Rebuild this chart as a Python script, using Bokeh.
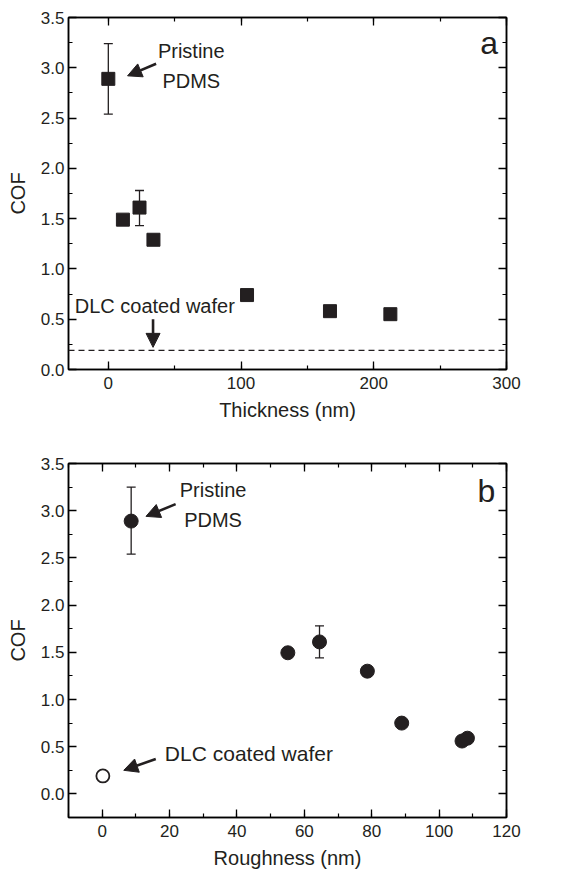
from bokeh.plotting import figure
from bokeh.layouts import column
from bokeh.models import (Range1d, LinearAxis, SingleIntervalTicker, NumeralTickFormatter,
                          CustomJSTickFormatter, Whisker, TeeHead, Span, Arrow, NormalHead,
                          Label, ColumnDataSource)
from bokeh.embed import file_html
from bokeh.resources import INLINE

# ---- data, panel a (COF vs thickness) ----
thick_nm = [0, 11, 23.5, 34, 104.5, 167, 212.5]
cof_a = [2.89, 1.49, 1.61, 1.29, 0.74, 0.58, 0.55]
err_x_a = [0, 23.5, 34]
err_lo_a = [2.54, 1.43, 1.24]
err_hi_a = [3.24, 1.78, 1.34]
dlc_cof = 0.19

# ---- data, panel b (COF vs roughness) ----
rough_nm = [8.6, 55.1, 64.5, 78.7, 88.9, 106.8, 108.4]
cof_b = [2.89, 1.495, 1.61, 1.30, 0.75, 0.56, 0.59]
err_x_b = [8.6, 64.5, 78.7]
err_lo_b = [2.54, 1.44, 1.25]
err_hi_b = [3.25, 1.78, 1.35]
dlc_rough = [0.2]
dlc_cof_b = [0.19]

# ---- annotation positions (data units) ----
ann_a = dict(pristine=(62.5, 3.17), pdms=(62.5, 2.87), arrow=(36, 3.04, 14.5, 2.92),
             dlc=(35, 0.63), dlc_arrow=(33.7, 0.50, 33.7, 0.22), letter=(287, 3.25))
ann_b = dict(pristine=(32.9, 3.22), pdms=(32.9, 2.90), arrow=(21.8, 3.07, 13.0, 2.94),
             dlc=(18.6, 0.43), dlc_arrow=(15.9, 0.37, 6.4, 0.25), letter=(114, 3.21))

FONT = "Liberation Sans"
TXT = "#231f20"


def style_axis(ax, ticker, fmt=None, labels=True):
    ax.ticker = ticker
    if fmt is not None:
        ax.formatter = fmt
    ax.axis_line_color = "black"
    ax.axis_line_width = 1.5
    ax.major_tick_in = 8
    ax.major_tick_out = 0
    ax.minor_tick_in = 4
    ax.minor_tick_out = 0
    ax.major_tick_line_width = 1.3
    ax.minor_tick_line_width = 1.2
    ax.major_tick_line_color = "black"
    ax.minor_tick_line_color = "black"
    ax.major_label_text_font = FONT
    ax.major_label_text_color = TXT
    ax.axis_label_text_font = FONT
    ax.axis_label_text_color = TXT
    ax.axis_label_text_font_style = "normal"
    ax.axis_label_text_font_size = "20px"
    ax.major_label_text_font_size = "17px"
    if labels:
        ax.major_label_standoff = 5
    else:
        ax.formatter = CustomJSTickFormatter(code="return ''")
        ax.major_label_standoff = 0


def make_panel(xr, yr, xint, min_top, min_bottom, frame_h, xlabel, left):
    p = figure(width=557, frame_width=438, frame_height=frame_h,
               x_range=Range1d(*xr), y_range=Range1d(*yr),
               output_backend="svg", toolbar_location=None,
               min_border_left=left, min_border_right=557 - 438 - left,
               min_border_top=min_top, min_border_bottom=min_bottom)
    p.grid.visible = False
    p.outline_line_color = "black"
    p.outline_line_width = 1.5
    p.background_fill_color = "white"
    p.border_fill_color = "white"
    xt = SingleIntervalTicker(interval=xint, num_minor_ticks=2)
    yt = SingleIntervalTicker(interval=0.5, num_minor_ticks=2)
    style_axis(p.xaxis[0], xt)
    style_axis(p.yaxis[0], yt, NumeralTickFormatter(format="0.0"))
    p.xaxis[0].axis_label = xlabel
    p.xaxis[0].axis_label_standoff = 7
    p.xaxis[0].major_label_standoff = 7
    p.yaxis[0].axis_label = "COF"
    p.yaxis[0].axis_label_standoff = 9
    p.yaxis[0].major_label_standoff = 4
    top = LinearAxis()
    style_axis(top, SingleIntervalTicker(interval=xint, num_minor_ticks=2), labels=False)
    right = LinearAxis()
    style_axis(right, SingleIntervalTicker(interval=0.5, num_minor_ticks=2), labels=False)
    p.add_layout(top, "above")
    p.add_layout(right, "right")
    return p


def add_annotations(p, ann, letter, fs_dlc):
    for key, txt in (("pristine", "Pristine"), ("pdms", "PDMS")):
        x, y = ann[key]
        p.add_layout(Label(x=x, y=y, text=txt, text_font=FONT, text_font_size="20px",
                           text_color=TXT, text_align="center", text_baseline="middle"))
    x0, y0, x1, y1 = ann["arrow"]
    p.add_layout(Arrow(x_start=x0, y_start=y0, x_end=x1, y_end=y1, line_width=2.6,
                       line_color=TXT,
                       end=NormalHead(size=14, fill_color=TXT, line_color=TXT,
                                      line_width=1)))
    x, y = ann["dlc"]
    p.add_layout(Label(x=x, y=y, text="DLC coated wafer", text_font=FONT,
                       text_font_size=fs_dlc, text_color=TXT,
                       text_align="center" if letter == "a" else "left",
                       text_baseline="middle"))
    x0, y0, x1, y1 = ann["dlc_arrow"]
    p.add_layout(Arrow(x_start=x0, y_start=y0, x_end=x1, y_end=y1, line_width=2.6,
                       line_color=TXT,
                       end=NormalHead(size=14, fill_color=TXT, line_color=TXT,
                                      line_width=1)))
    x, y = ann["letter"]
    p.add_layout(Label(x=x, y=y, text=letter, text_font=FONT, text_font_size="32px",
                       text_color=TXT, text_align="center", text_baseline="middle"))


# ---- panel a ----
pa = make_panel((-30, 300), (0, 3.5), 100, 17, 56, 352, "Thickness (nm)", 67)
err_a = ColumnDataSource(dict(x=err_x_a, lo=err_lo_a, hi=err_hi_a))
pa.add_layout(Whisker(source=err_a, base="x", lower="lo", upper="hi", line_color=TXT,
                      line_width=1.3,
                      upper_head=TeeHead(size=9, line_color=TXT, line_width=1.3),
                      lower_head=TeeHead(size=9, line_color=TXT, line_width=1.3)))
pa.scatter(thick_nm, cof_a, marker="square", size=13, fill_color=TXT, line_color=TXT)
pa.add_layout(Span(location=dlc_cof, dimension="width", line_color=TXT, line_width=1.3,
                   line_dash="6 4"))
add_annotations(pa, ann_a, "a", "20px")

# ---- panel b ----
pb = make_panel((-10, 120), (-0.25, 3.5), 20, 38, 45, 354, "Roughness (nm)", 68)
err_b = ColumnDataSource(dict(x=err_x_b, lo=err_lo_b, hi=err_hi_b))
pb.add_layout(Whisker(source=err_b, base="x", lower="lo", upper="hi", line_color=TXT,
                      line_width=1.3,
                      upper_head=TeeHead(size=9, line_color=TXT, line_width=1.3),
                      lower_head=TeeHead(size=9, line_color=TXT, line_width=1.3)))
pb.scatter(rough_nm, cof_b, marker="circle", size=14, fill_color=TXT, line_color=TXT)
pb.scatter(dlc_rough, dlc_cof_b, marker="circle", size=13, fill_color="white",
           line_color=TXT, line_width=1.8)
add_annotations(pb, ann_b, "b", "21px")

layout = column(pa, pb, spacing=0)
open("out.html", "w").write(file_html(layout, INLINE))
